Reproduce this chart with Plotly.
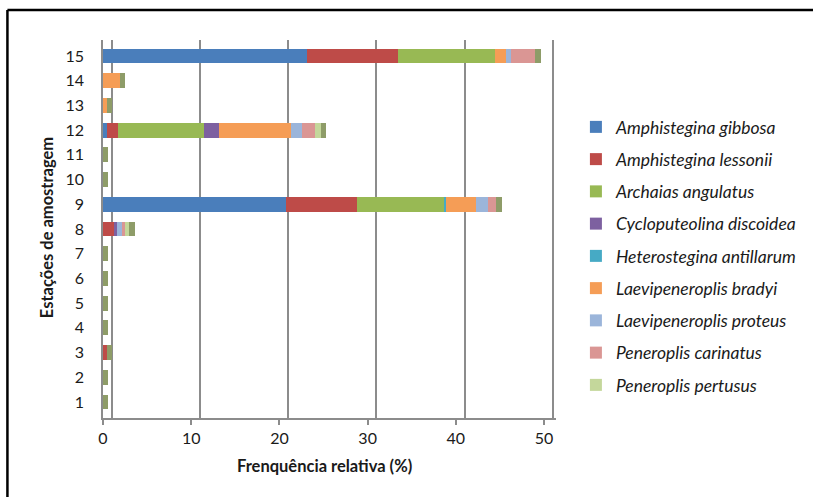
import plotly.graph_objects as go

# Sampling stations (y categories)
stations = [str(i) for i in range(1, 16)]

# Relative frequency (%) of each species per station, stations 1..15
amphistegina_gibbosa = [0, 0, 0, 0, 0, 0, 0, 0, 20.8, 0, 0, 0.45, 0, 0, 23.1]
amphistegina_lessonii = [0, 0, 0.4, 0, 0, 0, 0, 1.3, 8.0, 0, 0, 1.25, 0, 0, 10.3]
archaias_angulatus = [0, 0, 0, 0, 0, 0, 0, 0, 9.8, 0, 0, 9.8, 0, 0, 11.0]
cycloputeolina_discoidea = [0, 0, 0, 0, 0, 0, 0, 0.25, 0, 0, 0, 1.7, 0, 0, 0]
heterostegina_antillarum = [0, 0, 0, 0, 0, 0, 0, 0, 0.3, 0, 0, 0, 0, 0, 0]
laevipeneroplis_bradyi = [0, 0, 0, 0, 0, 0, 0, 0, 3.4, 0, 0, 8.1, 0.4, 1.9, 1.3]
laevipeneroplis_proteus = [0, 0, 0, 0, 0, 0, 0, 0.55, 1.3, 0, 0, 1.3, 0, 0, 0.6]
peneroplis_carinatus = [0, 0, 0, 0, 0, 0, 0, 0.4, 1.0, 0, 0, 1.4, 0, 0, 2.7]
peneroplis_pertusus = [0, 0, 0, 0, 0, 0, 0, 0.5, 0, 0, 0, 0.7, 0, 0, 0]

species = [
    ("Amphistegina gibbosa", amphistegina_gibbosa, "#4A7EBB"),
    ("Amphistegina lessonii", amphistegina_lessonii, "#BE4B48"),
    ("Archaias angulatus", archaias_angulatus, "#98B954"),
    ("Cycloputeolina discoidea", cycloputeolina_discoidea, "#7D60A0"),
    ("Heterostegina antillarum", heterostegina_antillarum, "#46AAC5"),
    ("Laevipeneroplis bradyi", laevipeneroplis_bradyi, "#F59D56"),
    ("Laevipeneroplis proteus", laevipeneroplis_proteus, "#9BB5DA"),
    ("Peneroplis carinatus", peneroplis_carinatus, "#DA9694"),
    ("Peneroplis pertusus", peneroplis_pertusus, "#C4D79B"),
]

x_ticks = [0, 10, 20, 30, 40, 50]

FONT = "Lato"
DEPTH = 0.6  # width of the shaded end face that gives the bars depth

fig = go.Figure()
for i, (name, vals, color) in enumerate(species):
    fig.add_trace(go.Bar(
        y=stations, x=vals, name=name, orientation="h",
        marker=dict(color=color, line=dict(width=0)),
        legendgroup=f"g{i}",
    ))

# end face of each stacked bar, placed after the stack total
totals = [sum(s[1][k] for s in species) for k in range(len(stations))]
fig.add_trace(go.Bar(
    y=stations, x=[DEPTH] * len(stations), base=totals, orientation="h",
    marker=dict(color="#8E9C68", line=dict(width=0)),
    showlegend=False, hoverinfo="skip",
))

# back wall gridlines, drawn one unit deeper than the front axis
fig.add_trace(go.Scatter(x=[None], y=[None], xaxis="x2", showlegend=False, hoverinfo="skip"))

L, R, T, B = 103, 255, 40, 79
W, H = 813, 497
pw = W - L - R
ph = H - T - B

def px(xp):
    return (xp - L) / pw

def py(yp):
    return (H - B - yp) / ph

fig.update_layout(
    width=W, height=H,
    margin=dict(l=L, r=R, t=T, b=B),
    barmode="stack", bargap=0.4,
    plot_bgcolor="white", paper_bgcolor="white",
    font=dict(family=FONT, size=14, color="#1a1a1a"),
    xaxis=dict(
        range=[0, 51.35], tickvals=x_ticks, showgrid=False, zeroline=False,
        showline=True, linecolor="#8c8c8c", linewidth=1.5,
        ticks="outside", ticklen=5, tickcolor="#8c8c8c", tickwidth=1.5,
        tickfont=dict(family=FONT, size=16, color="#1a1a1a"),
    ),
    xaxis2=dict(
        range=[-1.0, 50.35], overlaying="x", side="bottom", tickvals=x_ticks,
        showticklabels=False, showgrid=True, gridcolor="#8c8c8c", gridwidth=1.5,
        zeroline=False, showline=False,
    ),
    yaxis=dict(
        range=[-0.65, 14.65], type="category", showgrid=False, zeroline=False,
        showline=True, linecolor="#8c8c8c", linewidth=1.5,
        ticks="", ticklabelstandoff=14,
        tickfont=dict(family=FONT, size=16, color="#1a1a1a"),
    ),
    legend=dict(
        x=px(578), y=py(109), xanchor="left", yanchor="top",
        font=dict(family=FONT, size=17.5, color="#1a1a1a", style="italic"),
        tracegroupgap=6.5, bgcolor="rgba(0,0,0,0)",
    ),
    showlegend=True,
)

fig.add_annotation(
    text="<b>Frenquência relativa (%)</b>", x=px(325), y=py(466),
    xref="paper", yref="paper", xanchor="center", yanchor="middle",
    showarrow=False,
    font=dict(family=FONT, size=16.5, color="#1a1a1a"),
)
fig.add_annotation(
    text="<b>Estações de amostragem</b>", x=px(47), y=py(228),
    xref="paper", yref="paper", xanchor="center", yanchor="middle",
    showarrow=False, textangle=-90,
    font=dict(family=FONT, size=16.5, color="#1a1a1a"),
)

# outer frame (left and top edges)
fig.add_shape(type="line", xref="paper", yref="paper",
              x0=px(7), x1=px(7), y0=py(10), y1=py(H + 5),
              line=dict(color="black", width=2.5))
fig.add_shape(type="line", xref="paper", yref="paper",
              x0=px(7), x1=px(W + 5), y0=py(10), y1=py(10),
              line=dict(color="black", width=2.5))

fig.write_html("out.html")
